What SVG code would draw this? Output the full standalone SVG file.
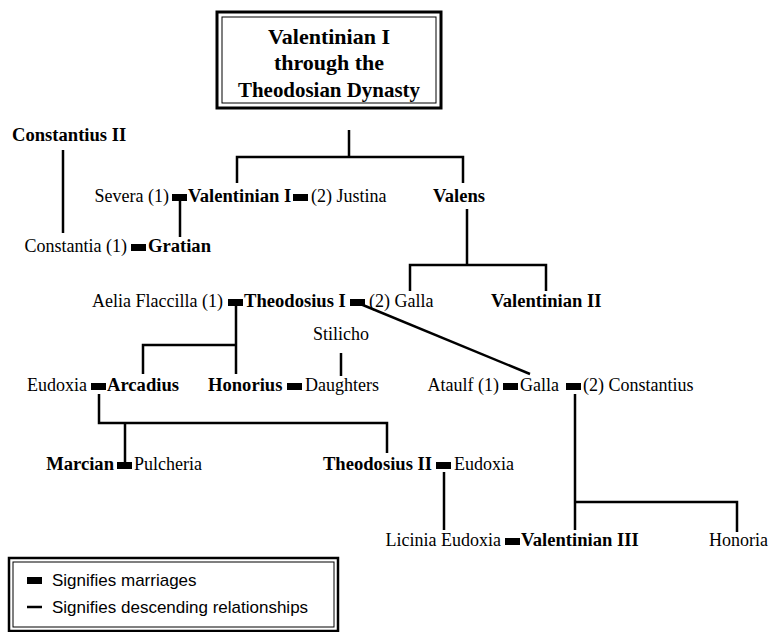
<svg xmlns="http://www.w3.org/2000/svg" xmlns:xlink="http://www.w3.org/1999/xlink" width="772" height="632" viewBox="0 0 772 632">
  <style>
    .t{font-family:"Liberation Serif","DejaVu Serif",serif;font-size:18px;fill:#000}
    .b{font-weight:bold;font-size:18.6px}
    .e{text-anchor:end}
    .h{font-family:"Liberation Serif","DejaVu Serif",serif;font-size:22px;font-weight:bold;text-anchor:middle;fill:#000}
    .lg{font-family:"Liberation Sans",Arial,sans-serif;font-size:17px;fill:#000}
    .c{stroke:#000;stroke-width:2.5;fill:none;stroke-linecap:butt}
    .frame{fill:#fff;stroke:#000}
  </style>
  <defs>
    <!-- marriage marker -->
    <rect id="mar" width="15" height="7" fill="#000"/>
  </defs>
  <rect width="772" height="632" fill="#fff"/>

  <!-- title block -->
  <g id="title">
    <rect class="frame" x="217" y="12" width="224" height="96" stroke-width="3"/>
    <rect class="frame" x="222" y="17" width="214" height="86" stroke-width="1"/>
    <text class="h" x="329" y="44">Valentinian I</text>
    <text class="h" x="329" y="70">through the</text>
    <text class="h" x="329" y="97" textLength="182" lengthAdjust="spacingAndGlyphs">Theodosian Dynasty</text>
  </g>

  <!-- descent lines -->
  <g id="connectors">
    <path class="c" d="M349,130 V157 M237,183 V157 H463 V183"/>
    <path class="c" d="M63,150 V233"/>
    <path class="c" d="M180,197 V237"/>
    <path class="c" d="M467,209 V265 M410,291 V265 H546 V291"/>
    <path class="c" d="M236,303 V374 M143,374 V345 H236"/>
    <path class="c" d="M358,303 L530,374"/>
    <path class="c" d="M341,353 V376"/>
    <path class="c" d="M99,394 V423 H387 V453 M125,423 V466"/>
    <path class="c" d="M444,472 V530"/>
    <path class="c" d="M575,394 V530 M575,502 H737 V532"/>
  </g>

  <g id="constantius-ii"><text class="t b" x="12" y="141">Constantius II</text></g>

  <g id="valentinian-i">
    <text class="t e" x="169" y="202">Severa (1)</text>
    <use href="#mar" x="172" y="194"/>
    <text class="t b" x="188" y="202">Valentinian I</text>
    <use href="#mar" x="293" y="194"/>
    <text class="t" x="311" y="202">(2) Justina</text>
  </g>

  <g id="valens"><text class="t b" x="433" y="202">Valens</text></g>

  <g id="gratian">
    <text class="t e" x="127" y="252">Constantia (1)</text>
    <use href="#mar" x="131" y="244"/>
    <text class="t b" x="148" y="252">Gratian</text>
  </g>

  <g id="theodosius-i">
    <text class="t e" x="223" y="307">Aelia Flaccilla (1)</text>
    <use href="#mar" x="228" y="299"/>
    <text class="t b" x="244" y="307">Theodosius I</text>
    <use href="#mar" x="350" y="299"/>
    <text class="t" x="369" y="307">(2) Galla</text>
  </g>

  <g id="valentinian-ii"><text class="t b" x="491" y="307">Valentinian II</text></g>

  <g id="stilicho"><text class="t" x="313" y="340">Stilicho</text></g>

  <g id="arcadius">
    <text class="t e" x="87" y="391">Eudoxia</text>
    <use href="#mar" x="91" y="383"/>
    <text class="t b" x="107" y="391">Arcadius</text>
  </g>

  <g id="honorius">
    <text class="t b" x="208" y="391">Honorius</text>
    <use href="#mar" x="287" y="383"/>
    <text class="t" x="305" y="391">Daughters</text>
  </g>

  <g id="galla">
    <text class="t e" x="499" y="391">Ataulf (1)</text>
    <use href="#mar" x="503" y="383"/>
    <text class="t" x="520" y="391">Galla</text>
    <use href="#mar" x="566" y="383"/>
    <text class="t" x="583" y="391">(2) Constantius</text>
  </g>

  <g id="marcian">
    <text class="t b e" x="114" y="470">Marcian</text>
    <use href="#mar" x="117" y="462"/>
    <text class="t" x="134" y="470">Pulcheria</text>
  </g>

  <g id="theodosius-ii">
    <text class="t b e" x="432" y="470">Theodosius II</text>
    <use href="#mar" x="436" y="462"/>
    <text class="t" x="454" y="470">Eudoxia</text>
  </g>

  <g id="valentinian-iii">
    <text class="t e" x="501" y="546">Licinia Eudoxia</text>
    <use href="#mar" x="505" y="538"/>
    <text class="t b" x="521" y="546">Valentinian III</text>
  </g>

  <g id="honoria"><text class="t" x="709" y="546">Honoria</text></g>

  <!-- key -->
  <g id="legend">
    <rect class="frame" x="9" y="558" width="329" height="73" stroke-width="2.5"/>
    <rect class="frame" x="13" y="562" width="321" height="65" stroke-width="1"/>
    <use href="#mar" x="27" y="577"/>
    <text class="lg" x="52" y="586">Signifies marriages</text>
    <path class="c" d="M27,607 H42"/>
    <text class="lg" x="52" y="613">Signifies descending relationships</text>
  </g>
</svg>
